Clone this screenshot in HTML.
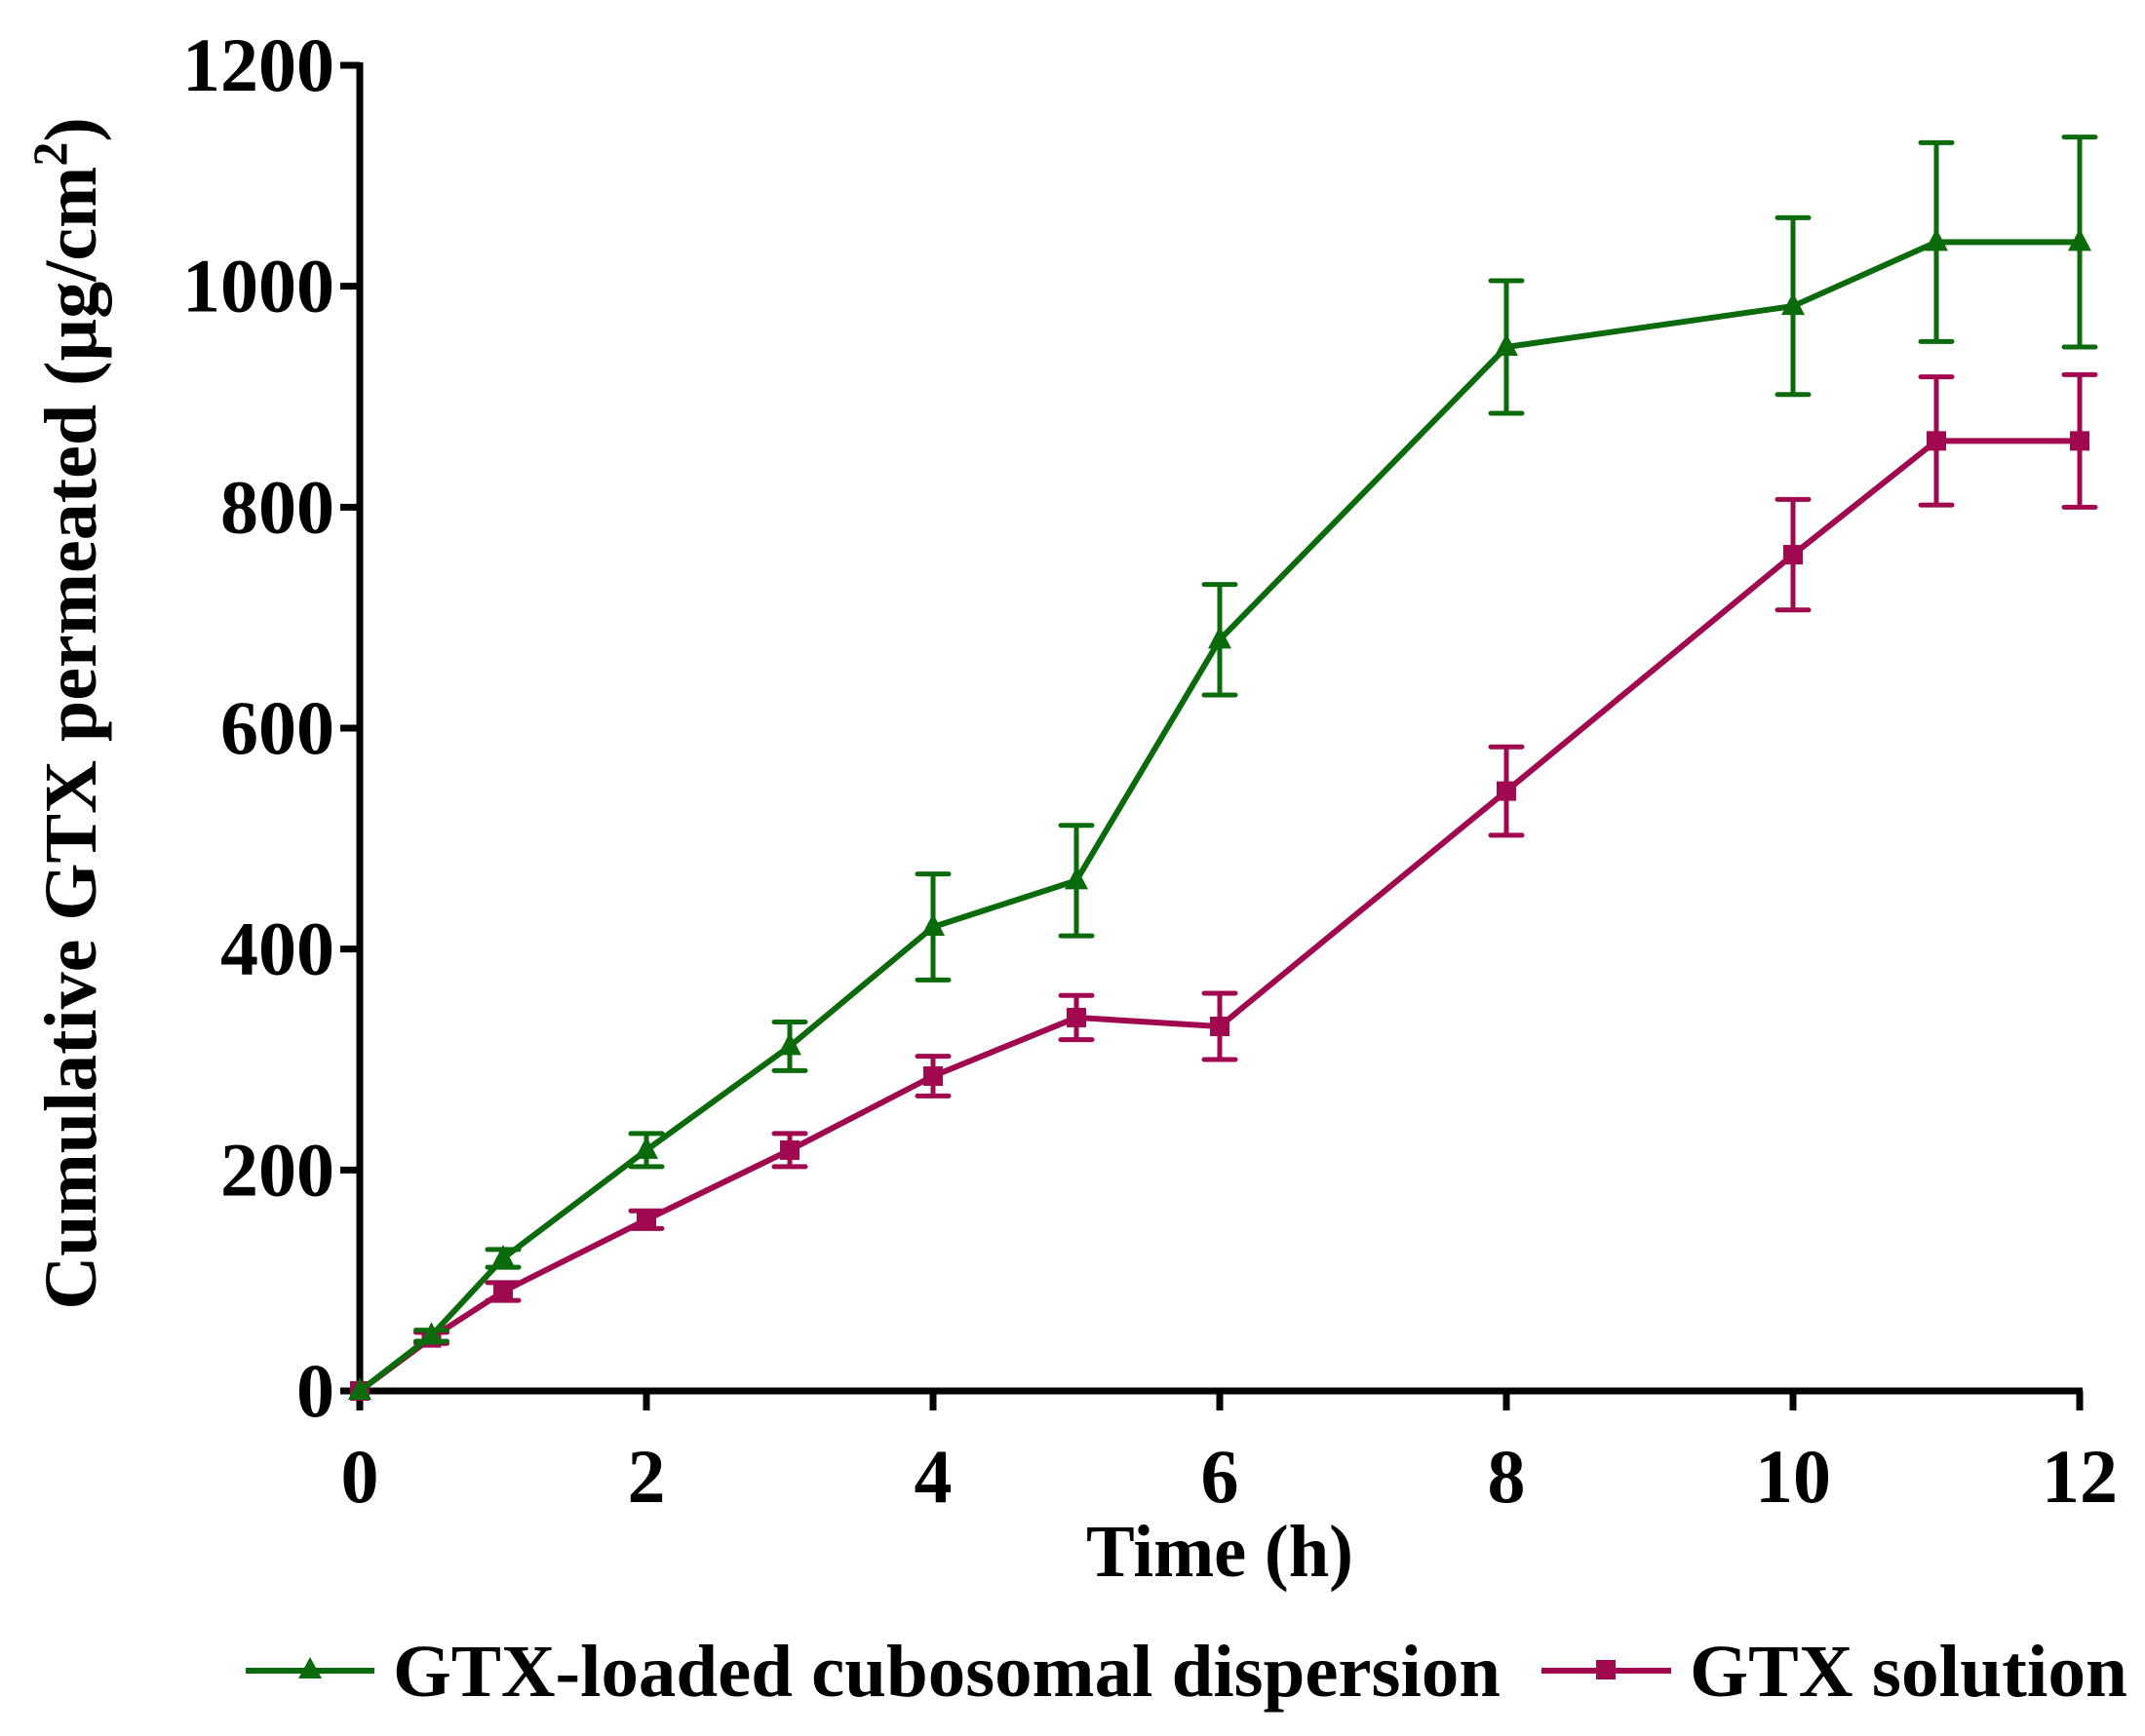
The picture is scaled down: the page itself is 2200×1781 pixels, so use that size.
<!DOCTYPE html>
<html><head><meta charset="utf-8"><style>
html,body{margin:0;padding:0;background:#fff;}
svg{display:block;font-family:"Liberation Serif",serif;font-weight:bold;}
</style></head><body>
<svg id="chart" width="2200" height="1781" viewBox="0 0 2200 1781">
<g id="axes"></g>
<g id="series"></g>
<text x="0" y="0" transform="translate(98,732) rotate(-90)" text-anchor="middle" font-size="76">Cumulative GTX permeated (µg/cm<tspan dy="-30" font-size="50">2</tspan><tspan dy="30">)</tspan></text>
<text x="1251" y="1617" text-anchor="middle" font-size="76" textLength="274" lengthAdjust="spacingAndGlyphs">Time (h)</text>
<g>
<g>
<line x1="252" y1="1714" x2="384" y2="1714" stroke="#0b6a0b" stroke-width="6"/>
<polygon points="318,1700 330,1722 306,1722" fill="#0b6a0b"/>
<text x="403" y="1740" font-size="76" textLength="1136" lengthAdjust="spacingAndGlyphs">GTX-loaded cubosomal dispersion</text>
</g>
<g>
<line x1="1581" y1="1714" x2="1714" y2="1714" stroke="#a0084f" stroke-width="6"/>
<rect x="1637" y="1703" width="20" height="20" fill="#a0084f"/>
<text x="1733" y="1740" font-size="76" textLength="449" lengthAdjust="spacingAndGlyphs">GTX solution</text>
</g>
</g>
</svg>
<script>
const times = [0, 0.5, 1, 2, 3, 4, 5, 6, 8, 10, 11, 12];
const cuboValues = [0, 50, 120, 218, 312, 420, 462, 680, 945, 982, 1040, 1040];
const cuboErrors = [0, 5, 8, 15, 22, 48, 50, 50, 60, 80, 90, 95];
const solValues = [0, 48, 90, 155, 218, 285, 338, 330, 543, 757, 860, 860];
const solErrors = [0, 5, 8, 8, 15, 18, 20, 30, 40, 50, 58, 60];
const xTicks = [0, 2, 4, 6, 8, 10, 12];
const yTicks = [0, 200, 400, 600, 800, 1000, 1200];

const NS = "http://www.w3.org/2000/svg";
const X0 = 369, X1 = 2133, Y0 = 1427, Y1 = 67;
const xs = v => X0 + (v / 12) * (X1 - X0);
const ys = v => Y0 - (v / 1200) * (Y0 - Y1);
function mk(tag, attrs, parent) {
  const e = document.createElementNS(NS, tag);
  for (const k in attrs) e.setAttribute(k, attrs[k]);
  parent.appendChild(e);
  return e;
}
const axes = document.getElementById('axes');
const series = document.getElementById('series');

const yAxis = mk('line', {x1: X0, y1: Y1 - 3, x2: X0, y2: Y0 + 3, stroke: '#000', 'stroke-width': 7}, axes);


const xAxis = mk('line', {x1: X0 - 3, y1: Y0, x2: X1 + 3, y2: Y0, stroke: '#000', 'stroke-width': 7}, axes);



yTicks.forEach(v => {
  const t = mk('line', {x1: X0 - 20, y1: ys(v), x2: X0, y2: ys(v), stroke: '#000', 'stroke-width': 7}, axes);
  
  
  const l = mk('text', {x: X0 - 26, y: ys(v) + 26, 'text-anchor': 'end', 'font-size': 78}, axes);
  l.textContent = v;
  
  
});
xTicks.forEach(v => {
  const t = mk('line', {x1: xs(v), y1: Y0, x2: xs(v), y2: Y0 + 20, stroke: '#000', 'stroke-width': 7}, axes);
  
  
  const l = mk('text', {x: xs(v), y: Y0 + 114, 'text-anchor': 'middle', 'font-size': 78}, axes);
  l.textContent = v;
  
  
});

function drawSeries(vals, errs, color, marker, name) {
  const g = mk('g', {}, series);
  
  
  times.forEach((t, i) => {
    if (errs[i] <= 0) return;
    const x = xs(t), yt = ys(vals[i] + errs[i]), yb = ys(vals[i] - errs[i]);
    const eb = mk('path', {d: `M${x},${yt}V${yb}M${x - 16},${yt}H${x + 16}M${x - 16},${yb}H${x + 16}`, stroke: color, 'stroke-width': 5, fill: 'none', 'stroke-linecap': 'round'}, g);
    
    
  });
  const pts = times.map((t, i) => xs(t) + ',' + ys(vals[i])).join(' ');
  const pl = mk('polyline', {points: pts, fill: 'none', stroke: color, 'stroke-width': 6, 'stroke-linejoin': 'round'}, g);
  
  
  times.forEach((t, i) => {
    const x = xs(t), y = ys(vals[i]);
    let m;
    if (marker === 'tri') m = mk('polygon', {points: `${x},${y - 14} ${x + 12},${y + 9} ${x - 12},${y + 9}`, fill: color}, g);
    else m = mk('rect', {x: x - 10, y: y - 10, width: 20, height: 20, fill: color}, g);
    
    
  });
}
drawSeries(solValues, solErrors, '#a0084f', 'sq', 'gtx-solution');
drawSeries(cuboValues, cuboErrors, '#0b6a0b', 'tri', 'cubosomal-dispersion');
</script>
</body></html>
